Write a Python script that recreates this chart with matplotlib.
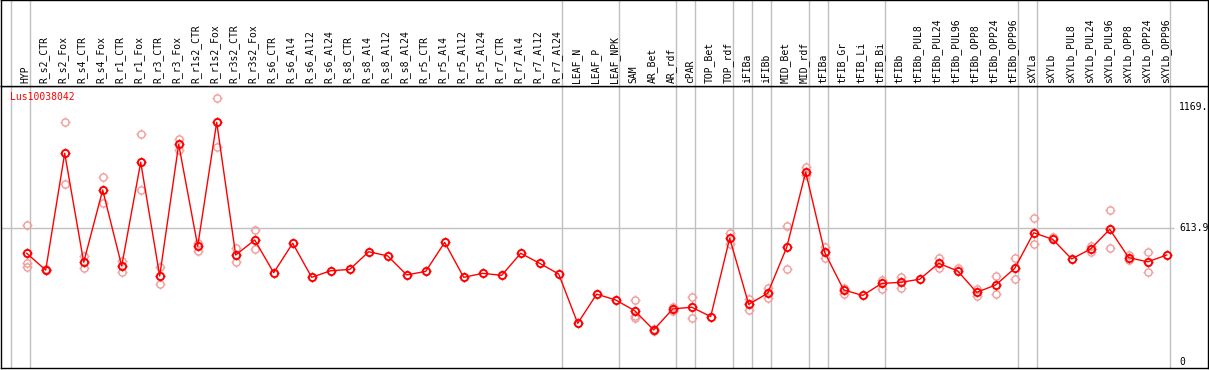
import matplotlib
matplotlib.use("Agg")
import matplotlib.pyplot as plt
from matplotlib.path import Path

# sample names along the x axis
samples = ["HYP", "R_s2_CTR", "R_s2_Fox", "R_s4_CTR", "R_s4_Fox", "R_r1_CTR", "R_r1_Fox",
           "R_r3_CTR", "R_r3_Fox", "R_r1s2_CTR", "R_r1s2_Fox", "R_r3s2_CTR", "R_r3s2_Fox",
           "R_s6_CTR", "R_s6_Al4", "R_s6_Al12", "R_s6_Al24", "R_s8_CTR", "R_s8_Al4",
           "R_s8_Al12", "R_s8_Al24", "R_r5_CTR", "R_r5_Al4", "R_r5_Al12", "R_r5_Al24",
           "R_r7_CTR", "R_r7_Al4", "R_r7_Al12", "R_r7_Al24", "LEAF_N", "LEAF_P", "LEAF_NPK",
           "SAM", "AR_Bet", "AR_rdf", "cPAR", "TOP_Bet", "TOP_rdf", "iFIBa", "iFIBb",
           "MID_Bet", "MID_rdf", "tFIBa", "tFIB_Gr", "tFIB_Li", "tFIB_Bi", "tFIBb",
           "tFIBb_PUL8", "tFIBb_PUL24", "tFIBb_PUL96", "tFIBb_OPP8", "tFIBb_OPP24",
           "tFIBb_OPP96", "sXYLa", "sXYLb", "sXYLb_PUL8", "sXYLb_PUL24", "sXYLb_PUL96",
           "sXYLb_OPP8", "sXYLb_OPP24", "sXYLb_OPP96"]

# mean expression per sample
means = [498, 421, 956, 457, 788, 440, 915, 394, 997, 531, 1098, 490, 559,
         409, 544, 388, 418, 424, 505, 486, 399, 415, 548, 388, 406,
         397, 498, 452, 403, 177, 311, 284,
         235, 147, 243, 251, 208, 567, 264, 315,
         525, 870, 502, 330, 305, 360, 365,
         379, 452, 417, 319, 353, 429,
         592, 562, 472, 518, 608, 478, 459, 490]

# individual replicates (empty where they sit under the mean marker)
replicates = [[627, 452, 437], [421, 428], [1098, 814], [487, 429], [846, 727],
              [463, 414], [1043, 788], [434, 356], [1021, 971], [547, 510],
              [1208, 983], [521, 457], [605, 516], [], [], [], [], [], [], [], [],
              [], [], [], [], [], [], [], [], [], [], [],
              [284, 211, 200], [150, 144], [253, 235], [296, 203], [], [589, 541],
              [287, 238], [338, 292], [623, 424], [895, 857], [528, 478], [341, 310],
              [], [376, 333], [391, 341], [], [478, 429], [429], [333, 302], [394, 310],
              [475, 379], [658, 539], [574], [], [533, 502], [696, 521], [490, 467],
              [505, 411], []]

# positions after which a group separator is drawn
separators = [-1, 0, 28, 31, 34, 35, 37, 38, 39, 41, 42, 45, 52, 53, 60]

gene = "Lus10038042"
ref_ticks = [1169.0, 613.9, 0]
ref_labels = ["1169.", "613.9", "0"]

W, H = 1209, 370
fig = plt.figure(figsize=(W / 100, H / 100), dpi=100)

# pixel -> data mapping (19 px per sample, first sample at x=26.7)
x0, dx = 26.7, 19.0
xl = ((1 - x0) / dx, (1208 - x0) / dx)
y0px, ypp = 362.0, 0.2183
yl = ((y0px - 368) / ypp, (y0px - 86) / ypp)
right_edge = (1170.3 - x0) / dx

ax = fig.add_axes([1 / W, 2 / H, 1207 / W, 282 / H])
hd = fig.add_axes([1 / W, 284 / H, 1207 / W, 86 / H])

for a in (ax, hd):
    a.set_xlim(*xl)
    a.set_xticks([])
    a.set_yticks([])
    for s in a.spines.values():
        s.set_color("black")
        s.set_linewidth(1.0)
    for sp in separators:
        a.axvline(sp + 0.19, color="#c0c0c0", lw=1.0, zorder=0)

ax.set_ylim(*yl)
hd.set_ylim(0, 86)

ax.hlines(613.9, xl[0], right_edge + 0.19, color="#c0c0c0", lw=1.0, zorder=0)

# circle with four little ticks, like the original markers
tick = Path([(0, 0.78), (0, 1), (0, -0.78), (0, -1), (0.78, 0), (1, 0), (-0.78, 0), (-1, 0)],
            [Path.MOVETO, Path.LINETO] * 4)

xs = list(range(len(samples)))
rx = [i for i, r in enumerate(replicates) for _ in r]
ry = [v for r in replicates for v in r]
ax.plot(rx, ry, ls="none", marker="o", ms=5.2, mfc="none", mec="#f09a9a", mew=1.0, zorder=2)
ax.plot(rx, ry, ls="none", marker=tick, ms=7.0, mec="#f09a9a", mew=1.0, zorder=2)

ax.plot(xs, means, color="#ff0000", lw=1.0, zorder=3)
ax.plot(xs, means, ls="none", marker="o", ms=5.2, mfc="none", mec="#ff0000", mew=1.4, zorder=4)
ax.plot(xs, means, ls="none", marker=tick, ms=7.0, mec="#ff0000", mew=1.0, zorder=4)

mono = "DejaVu Sans Mono"
ax.text((10 - x0) / dx, (y0px - 97) / ypp, gene, color="#ff0000", fontsize=7,
        family=mono, ha="left", va="center")

for v, t in zip(ref_ticks, ref_labels):
    ax.text((1179 - x0) / dx, v, t, fontsize=7, family=mono, ha="left", va="center")

for i, name in enumerate(samples):
    hd.text(i - 0.08, 3, name, rotation=90, fontsize=7, family=mono,
            ha="center", va="bottom")

fig.savefig("out.png", dpi=100)
